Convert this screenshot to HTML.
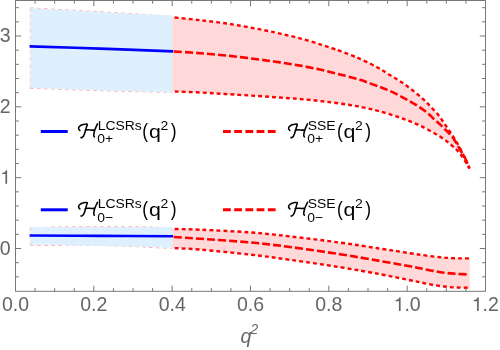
<!DOCTYPE html>
<html><head><meta charset="utf-8"><title>plot</title>
<style>
html,body{margin:0;padding:0;background:#fff;}
body{width:500px;height:350px;overflow:hidden;position:relative;font-family:"Liberation Sans",sans-serif;}
</style></head><body>
<svg width="500" height="350" viewBox="0 0 500 350" style="position:absolute;left:0;top:0">
<path d="M30.30,88.60 C30.30,75.15 30.30,21.35 30.30,7.90" fill="none" stroke="#ff5050" stroke-width="0.5" stroke-dasharray="3.5 3.5"/>
<path d="M30.30,7.90 C41.92,8.53 80.05,10.53 100.00,11.70 C119.95,12.87 138.00,13.98 150.00,14.90 C162.00,15.82 168.33,16.82 172.00,17.20" fill="none" stroke="#ff5050" stroke-width="0.5" stroke-dasharray="3.5 3.5"/>
<path d="M30.30,88.30 C41.92,88.70 76.38,90.00 100.00,90.70 C123.62,91.40 160.00,92.20 172.00,92.50" fill="none" stroke="#ff5050" stroke-width="0.5" stroke-dasharray="3.5 3.5"/>
<path d="M30.30,245.20 C30.30,242.17 30.30,230.03 30.30,227.00" fill="none" stroke="#ff5050" stroke-width="0.5" stroke-dasharray="3.5 3.5"/>
<path d="M30.30,227.90 C32.75,227.82 40.72,227.57 45.00,227.40 C49.28,227.23 46.83,227.01 56.00,226.90 C65.17,226.79 84.33,226.74 100.00,226.75 C115.67,226.76 138.00,226.61 150.00,226.95 C162.00,227.29 168.33,228.49 172.00,228.80" fill="none" stroke="#ff5050" stroke-width="0.5" stroke-dasharray="3.5 3.5"/>
<path d="M30.30,245.20 C34.42,245.26 48.38,245.57 55.00,245.55 C61.62,245.53 62.50,245.11 70.00,245.10 C77.50,245.09 89.17,245.25 100.00,245.50 C110.83,245.75 126.67,246.27 135.00,246.60 C143.33,246.93 143.83,247.22 150.00,247.50 C156.17,247.78 168.33,248.17 172.00,248.30" fill="none" stroke="#ff5050" stroke-width="0.5" stroke-dasharray="3.5 3.5"/>
<path d="M30.40,8.10 C42.00,8.73 76.37,10.70 100.00,11.90 C123.63,13.10 160.17,14.73 172.20,15.30 L172.20,92.40 C160.17,92.07 123.63,91.13 100.00,90.40 C76.37,89.67 42.00,88.40 30.40,88.00 Z" fill="#deeffe"/>
<path d="M172.20,17.20 C176.83,17.70 190.37,19.07 200.00,20.20 C209.63,21.33 220.00,22.47 230.00,24.00 C240.00,25.53 251.67,27.80 260.00,29.40 C268.33,31.00 273.33,32.12 280.00,33.60 C286.67,35.08 293.33,36.52 300.00,38.30 C306.67,40.08 314.50,42.60 320.00,44.30 C325.50,46.00 329.67,47.40 333.00,48.50 C336.33,49.60 336.67,49.67 340.00,50.90 C343.33,52.13 349.67,54.58 353.00,55.90 C356.33,57.22 357.17,57.53 360.00,58.80 C362.83,60.07 367.00,62.00 370.00,63.50 C373.00,65.00 375.67,66.50 378.00,67.80 C380.33,69.10 382.00,70.08 384.00,71.30 C386.00,72.52 388.00,73.87 390.00,75.10 C392.00,76.33 394.00,77.47 396.00,78.70 C398.00,79.93 400.17,81.28 402.00,82.50 C403.83,83.72 405.25,84.72 407.00,86.00 C408.75,87.28 410.67,88.77 412.50,90.20 C414.33,91.63 416.17,93.07 418.00,94.60 C419.83,96.13 421.83,97.85 423.50,99.40 C425.17,100.95 426.42,102.27 428.00,103.90 C429.58,105.53 431.33,107.42 433.00,109.20 C434.67,110.98 436.50,112.80 438.00,114.60 C439.50,116.40 440.67,118.10 442.00,120.00 C443.33,121.90 444.67,124.03 446.00,126.00 C447.33,127.97 448.67,129.83 450.00,131.80 C451.33,133.77 452.67,135.68 454.00,137.80 C455.33,139.92 456.67,142.13 458.00,144.50 C459.33,146.87 460.67,149.33 462.00,152.00 C463.33,154.67 464.93,158.20 466.00,160.50 C467.07,162.80 467.83,164.47 468.40,165.80 C468.97,167.13 469.23,168.05 469.40,168.50 L469.40,168.50 C469.00,167.72 468.57,166.28 467.00,163.80 C465.43,161.32 462.50,156.63 460.00,153.60 C457.50,150.57 455.33,148.43 452.00,145.60 C448.67,142.77 445.33,139.93 440.00,136.60 C434.67,133.27 426.67,128.77 420.00,125.60 C413.33,122.43 406.67,119.97 400.00,117.60 C393.33,115.23 385.83,113.03 380.00,111.40 C374.17,109.77 370.00,108.87 365.00,107.80 C360.00,106.73 356.67,106.03 350.00,105.00 C343.33,103.97 333.33,102.60 325.00,101.60 C316.67,100.60 308.33,99.73 300.00,99.00 C291.67,98.27 283.33,97.78 275.00,97.20 C266.67,96.62 258.33,96.03 250.00,95.50 C241.67,94.97 233.33,94.50 225.00,94.00 C216.67,93.50 208.80,92.93 200.00,92.50 C191.20,92.07 176.83,91.58 172.20,91.40 Z" fill="#ffd9d9"/>
<path d="M30.40,227.10 C42.00,227.08 76.37,227.02 100.00,227.00 C123.63,226.98 160.17,227.00 172.20,227.00 L172.20,247.80 C164.33,247.58 140.37,246.87 125.00,246.50 C109.63,246.13 95.77,245.88 80.00,245.60 C64.23,245.32 38.67,244.93 30.40,244.80 Z" fill="#deeffe"/>
<path d="M172.20,228.90 C176.83,229.03 187.03,229.12 200.00,229.70 C212.97,230.28 235.00,231.28 250.00,232.40 C265.00,233.52 275.00,234.70 290.00,236.40 C305.00,238.10 325.00,240.57 340.00,242.60 C355.00,244.63 368.33,246.83 380.00,248.60 C391.67,250.37 402.50,252.07 410.00,253.20 C417.50,254.33 420.00,254.73 425.00,255.40 C430.00,256.07 435.83,256.77 440.00,257.20 C444.17,257.63 446.67,257.80 450.00,258.00 C453.33,258.20 456.72,258.34 460.00,258.40 C463.28,258.46 468.08,258.36 469.70,258.35 L469.70,287.80 C467.42,287.75 460.28,287.72 456.00,287.50 C451.72,287.28 448.00,286.97 444.00,286.50 C440.00,286.03 436.00,285.40 432.00,284.70 C428.00,284.00 423.67,283.05 420.00,282.30 C416.33,281.55 416.67,281.55 410.00,280.20 C403.33,278.85 391.67,276.37 380.00,274.20 C368.33,272.03 355.00,269.60 340.00,267.20 C325.00,264.80 305.00,261.90 290.00,259.80 C275.00,257.70 265.00,256.30 250.00,254.60 C235.00,252.90 212.97,250.70 200.00,249.60 C187.03,248.50 176.83,248.27 172.20,248.00 Z" fill="#ffd9d9"/>
<path d="M172.20,17.20 C176.83,17.70 190.37,19.07 200.00,20.20 C209.63,21.33 220.00,22.47 230.00,24.00 C240.00,25.53 251.67,27.80 260.00,29.40 C268.33,31.00 273.33,32.12 280.00,33.60 C286.67,35.08 293.33,36.52 300.00,38.30 C306.67,40.08 314.50,42.60 320.00,44.30 C325.50,46.00 329.67,47.40 333.00,48.50 C336.33,49.60 336.67,49.67 340.00,50.90 C343.33,52.13 349.67,54.58 353.00,55.90 C356.33,57.22 357.17,57.53 360.00,58.80 C362.83,60.07 367.00,62.00 370.00,63.50 C373.00,65.00 375.67,66.50 378.00,67.80 C380.33,69.10 382.00,70.08 384.00,71.30 C386.00,72.52 388.00,73.87 390.00,75.10 C392.00,76.33 394.00,77.47 396.00,78.70 C398.00,79.93 400.17,81.28 402.00,82.50 C403.83,83.72 405.25,84.72 407.00,86.00 C408.75,87.28 410.67,88.77 412.50,90.20 C414.33,91.63 416.17,93.07 418.00,94.60 C419.83,96.13 421.83,97.85 423.50,99.40 C425.17,100.95 426.42,102.27 428.00,103.90 C429.58,105.53 431.33,107.42 433.00,109.20 C434.67,110.98 436.50,112.80 438.00,114.60 C439.50,116.40 440.67,118.10 442.00,120.00 C443.33,121.90 444.67,124.03 446.00,126.00 C447.33,127.97 448.67,129.83 450.00,131.80 C451.33,133.77 452.67,135.68 454.00,137.80 C455.33,139.92 456.67,142.13 458.00,144.50 C459.33,146.87 460.67,149.33 462.00,152.00 C463.33,154.67 464.93,158.20 466.00,160.50 C467.07,162.80 467.83,164.47 468.40,165.80 C468.97,167.13 469.23,168.05 469.40,168.50" fill="none" stroke="#ff0000" stroke-width="2.4" stroke-dasharray="3.85 3.1" stroke-dashoffset="-2.7"/>
<path d="M172.20,91.40 C176.83,91.58 191.20,92.07 200.00,92.50 C208.80,92.93 216.67,93.50 225.00,94.00 C233.33,94.50 241.67,94.97 250.00,95.50 C258.33,96.03 266.67,96.62 275.00,97.20 C283.33,97.78 291.67,98.27 300.00,99.00 C308.33,99.73 316.67,100.60 325.00,101.60 C333.33,102.60 343.33,103.97 350.00,105.00 C356.67,106.03 360.00,106.73 365.00,107.80 C370.00,108.87 374.17,109.77 380.00,111.40 C385.83,113.03 393.33,115.23 400.00,117.60 C406.67,119.97 413.33,122.43 420.00,125.60 C426.67,128.77 434.67,133.27 440.00,136.60 C445.33,139.93 448.67,142.77 452.00,145.60 C455.33,148.43 457.50,150.57 460.00,153.60 C462.50,156.63 465.43,161.32 467.00,163.80 C468.57,166.28 469.00,167.72 469.40,168.50" fill="none" stroke="#ff0000" stroke-width="2.4" stroke-dasharray="3.85 3.1" stroke-dashoffset="-2.7"/>
<path d="M172.20,228.90 C176.83,229.03 187.03,229.12 200.00,229.70 C212.97,230.28 235.00,231.28 250.00,232.40 C265.00,233.52 275.00,234.70 290.00,236.40 C305.00,238.10 325.00,240.57 340.00,242.60 C355.00,244.63 368.33,246.83 380.00,248.60 C391.67,250.37 402.50,252.07 410.00,253.20 C417.50,254.33 420.00,254.73 425.00,255.40 C430.00,256.07 435.83,256.77 440.00,257.20 C444.17,257.63 446.67,257.80 450.00,258.00 C453.33,258.20 456.72,258.34 460.00,258.40 C463.28,258.46 468.08,258.36 469.70,258.35" fill="none" stroke="#ff0000" stroke-width="2.4" stroke-dasharray="3.85 3.1" stroke-dashoffset="-2.7"/>
<path d="M172.20,248.00 C176.83,248.27 187.03,248.50 200.00,249.60 C212.97,250.70 235.00,252.90 250.00,254.60 C265.00,256.30 275.00,257.70 290.00,259.80 C305.00,261.90 325.00,264.80 340.00,267.20 C355.00,269.60 368.33,272.03 380.00,274.20 C391.67,276.37 403.33,278.85 410.00,280.20 C416.67,281.55 416.33,281.55 420.00,282.30 C423.67,283.05 428.00,284.00 432.00,284.70 C436.00,285.40 440.00,286.03 444.00,286.50 C448.00,286.97 451.72,287.28 456.00,287.50 C460.28,287.72 467.42,287.75 469.70,287.80" fill="none" stroke="#ff0000" stroke-width="2.4" stroke-dasharray="3.85 3.1" stroke-dashoffset="-2.7"/>
<path d="M173.20,51.40 C177.67,51.70 190.53,52.45 200.00,53.20 C209.47,53.95 220.00,54.83 230.00,55.90 C240.00,56.97 251.67,58.52 260.00,59.60 C268.33,60.68 273.33,61.40 280.00,62.40 C286.67,63.40 293.33,64.40 300.00,65.60 C306.67,66.80 313.33,68.13 320.00,69.60 C326.67,71.07 333.33,72.70 340.00,74.40 C346.67,76.10 355.00,78.30 360.00,79.80 C365.00,81.30 366.67,82.20 370.00,83.40 C373.33,84.60 376.83,85.82 380.00,87.00 C383.17,88.18 385.83,89.10 389.00,90.50 C392.17,91.90 395.75,93.73 399.00,95.40 C402.25,97.07 405.33,98.70 408.50,100.50 C411.67,102.30 414.92,104.18 418.00,106.20 C421.08,108.22 424.17,110.30 427.00,112.60 C429.83,114.90 432.83,118.03 435.00,120.00 C437.17,121.97 438.33,122.85 440.00,124.40 C441.67,125.95 443.33,127.65 445.00,129.30 C446.67,130.95 448.42,132.52 450.00,134.30 C451.58,136.08 452.78,137.38 454.50,140.00 C456.22,142.62 458.55,147.00 460.30,150.00 C462.05,153.00 463.72,155.58 465.00,158.00 C466.28,160.42 467.27,162.75 468.00,164.50 C468.73,166.25 469.17,167.83 469.40,168.50" fill="none" stroke="#ff0000" stroke-width="2.6" stroke-dasharray="8 3.05" stroke-dashoffset="-0.8"/>
<path d="M173.20,236.90 C177.67,237.22 187.20,237.88 200.00,238.80 C212.80,239.72 235.00,241.03 250.00,242.40 C265.00,243.77 275.00,245.03 290.00,247.00 C305.00,248.97 325.00,251.87 340.00,254.20 C355.00,256.53 368.33,258.98 380.00,261.00 C391.67,263.02 403.33,265.08 410.00,266.30 C416.67,267.52 416.33,267.57 420.00,268.30 C423.67,269.03 428.00,269.97 432.00,270.70 C436.00,271.43 440.00,272.18 444.00,272.70 C448.00,273.22 451.72,273.50 456.00,273.80 C460.28,274.10 467.42,274.38 469.70,274.50" fill="none" stroke="#ff0000" stroke-width="2.6" stroke-dasharray="8 3.05" stroke-dashoffset="-0.8"/>
<path d="M29.60,46.40 C41.33,46.77 76.07,47.77 100.00,48.60 C123.93,49.43 161.00,50.93 173.20,51.40" fill="none" stroke="#0000ff" stroke-width="2.6"/>
<path d="M29.60,235.50 C41.33,235.57 76.07,235.77 100.00,235.90 C123.93,236.03 161.00,236.23 173.20,236.30" fill="none" stroke="#0000ff" stroke-width="2.6"/>
<path d="M15.5,0.5 H485.5 V291.3 H15.5 Z M15.50,291.3 v-5.7 M15.50,0.5 v5.7 M35.08,291.3 v-3.2 M35.08,0.5 v3.2 M54.67,291.3 v-3.2 M54.67,0.5 v3.2 M74.25,291.3 v-3.2 M74.25,0.5 v3.2 M93.83,291.3 v-5.7 M93.83,0.5 v5.7 M113.42,291.3 v-3.2 M113.42,0.5 v3.2 M133.00,291.3 v-3.2 M133.00,0.5 v3.2 M152.58,291.3 v-3.2 M152.58,0.5 v3.2 M172.17,291.3 v-5.7 M172.17,0.5 v5.7 M191.75,291.3 v-3.2 M191.75,0.5 v3.2 M211.34,291.3 v-3.2 M211.34,0.5 v3.2 M230.92,291.3 v-3.2 M230.92,0.5 v3.2 M250.50,291.3 v-5.7 M250.50,0.5 v5.7 M270.09,291.3 v-3.2 M270.09,0.5 v3.2 M289.67,291.3 v-3.2 M289.67,0.5 v3.2 M309.25,291.3 v-3.2 M309.25,0.5 v3.2 M328.84,291.3 v-5.7 M328.84,0.5 v5.7 M348.42,291.3 v-3.2 M348.42,0.5 v3.2 M368.00,291.3 v-3.2 M368.00,0.5 v3.2 M387.59,291.3 v-3.2 M387.59,0.5 v3.2 M407.17,291.3 v-5.7 M407.17,0.5 v5.7 M426.75,291.3 v-3.2 M426.75,0.5 v3.2 M446.34,291.3 v-3.2 M446.34,0.5 v3.2 M465.92,291.3 v-3.2 M465.92,0.5 v3.2 M485.50,291.3 v-5.7 M485.50,0.5 v5.7 M15.5,276.83 h3.4 M485.5,276.83 h-3.4 M15.5,262.67 h3.4 M485.5,262.67 h-3.4 M15.5,248.50 h5.7 M485.5,248.50 h-5.7 M15.5,234.33 h3.4 M485.5,234.33 h-3.4 M15.5,220.17 h3.4 M485.5,220.17 h-3.4 M15.5,206.00 h3.4 M485.5,206.00 h-3.4 M15.5,191.84 h3.4 M485.5,191.84 h-3.4 M15.5,177.67 h5.7 M485.5,177.67 h-5.7 M15.5,163.50 h3.4 M485.5,163.50 h-3.4 M15.5,149.34 h3.4 M485.5,149.34 h-3.4 M15.5,135.17 h3.4 M485.5,135.17 h-3.4 M15.5,121.01 h3.4 M485.5,121.01 h-3.4 M15.5,106.84 h5.7 M485.5,106.84 h-5.7 M15.5,92.67 h3.4 M485.5,92.67 h-3.4 M15.5,78.51 h3.4 M485.5,78.51 h-3.4 M15.5,64.34 h3.4 M485.5,64.34 h-3.4 M15.5,50.18 h3.4 M485.5,50.18 h-3.4 M15.5,36.01 h5.7 M485.5,36.01 h-5.7 M15.5,21.84 h3.4 M485.5,21.84 h-3.4 M15.5,7.68 h3.4 M485.5,7.68 h-3.4" fill="none" stroke="#787878" stroke-width="1"/>
<path d="M40.8,131.5 H67.7" fill="none" stroke="#0000ff" stroke-width="3"/>
<path d="M223,131.5 H275.6" fill="none" stroke="#ff0000" stroke-width="3" stroke-dasharray="7.8 3.4"/>
<path d="M40.8,209.8 H67.7" fill="none" stroke="#0000ff" stroke-width="3"/>
<path d="M223,209.8 H275.6" fill="none" stroke="#ff0000" stroke-width="3" stroke-dasharray="7.8 3.4"/>
<g font-family="Liberation Sans, sans-serif" fill="#000" opacity="0.999">
<path transform="translate(77.8,121.8)" d="M2.10,8.70 C1.91,8.48 1.14,7.88 0.95,7.40 C0.76,6.92 0.76,6.32 0.95,5.80 C1.14,5.28 1.52,4.77 2.10,4.30 C2.68,3.83 3.52,3.33 4.40,3.00 C5.28,2.67 6.55,2.44 7.40,2.35 C8.25,2.26 9.28,1.98 9.50,2.45 C9.72,2.93 9.00,4.18 8.70,5.20 C8.40,6.22 8.03,7.47 7.70,8.60 C7.37,9.73 7.05,11.03 6.70,12.00 C6.35,12.97 6.02,13.78 5.60,14.40 C5.18,15.02 4.60,15.47 4.20,15.70 C3.80,15.93 3.37,15.78 3.20,15.80 M7.40,8.40 C7.92,8.33 9.48,8.02 10.50,8.00 C11.52,7.98 12.45,8.28 13.50,8.30 C14.55,8.32 16.25,8.13 16.80,8.10 M19.70,2.10 C19.50,2.52 18.93,3.63 18.50,4.60 C18.07,5.57 17.48,6.78 17.10,7.90 C16.72,9.02 16.38,10.32 16.20,11.30 C16.02,12.28 15.93,13.17 16.00,13.80 C16.07,14.43 16.50,14.88 16.60,15.10" fill="none" stroke="#000" stroke-width="1.55" stroke-linecap="round" stroke-linejoin="round"/>
<text transform="translate(97.70,129.70) scale(1.065,1)" font-size="13.10" >LCSRs</text>
<text transform="translate(97.30,143.10) scale(1.065,1)" font-size="13.10" >0+</text>
<text transform="translate(142.30,137.50) scale(0.900,1)" font-size="19.40" >(</text>
<text transform="translate(148.95,137.60) scale(1.135,1)" font-size="18.80" >q</text>
<text transform="translate(160.50,130.00) scale(1.065,1)" font-size="13.10" >2</text>
<text transform="translate(170.75,137.50) scale(0.900,1)" font-size="19.40" >)</text>
<path transform="translate(287.8,121.8)" d="M2.10,8.70 C1.91,8.48 1.14,7.88 0.95,7.40 C0.76,6.92 0.76,6.32 0.95,5.80 C1.14,5.28 1.52,4.77 2.10,4.30 C2.68,3.83 3.52,3.33 4.40,3.00 C5.28,2.67 6.55,2.44 7.40,2.35 C8.25,2.26 9.28,1.98 9.50,2.45 C9.72,2.93 9.00,4.18 8.70,5.20 C8.40,6.22 8.03,7.47 7.70,8.60 C7.37,9.73 7.05,11.03 6.70,12.00 C6.35,12.97 6.02,13.78 5.60,14.40 C5.18,15.02 4.60,15.47 4.20,15.70 C3.80,15.93 3.37,15.78 3.20,15.80 M7.40,8.40 C7.92,8.33 9.48,8.02 10.50,8.00 C11.52,7.98 12.45,8.28 13.50,8.30 C14.55,8.32 16.25,8.13 16.80,8.10 M19.70,2.10 C19.50,2.52 18.93,3.63 18.50,4.60 C18.07,5.57 17.48,6.78 17.10,7.90 C16.72,9.02 16.38,10.32 16.20,11.30 C16.02,12.28 15.93,13.17 16.00,13.80 C16.07,14.43 16.50,14.88 16.60,15.10" fill="none" stroke="#000" stroke-width="1.55" stroke-linecap="round" stroke-linejoin="round"/>
<text transform="translate(307.70,129.70) scale(1.065,1)" font-size="13.10" >SSE</text>
<text transform="translate(307.30,143.10) scale(1.065,1)" font-size="13.10" >0+</text>
<text transform="translate(336.90,137.50) scale(0.900,1)" font-size="19.40" >(</text>
<text transform="translate(343.55,137.60) scale(1.135,1)" font-size="18.80" >q</text>
<text transform="translate(355.10,130.00) scale(1.065,1)" font-size="13.10" >2</text>
<text transform="translate(365.35,137.50) scale(0.900,1)" font-size="19.40" >)</text>
<path transform="translate(77.8,200.2)" d="M2.10,8.70 C1.91,8.48 1.14,7.88 0.95,7.40 C0.76,6.92 0.76,6.32 0.95,5.80 C1.14,5.28 1.52,4.77 2.10,4.30 C2.68,3.83 3.52,3.33 4.40,3.00 C5.28,2.67 6.55,2.44 7.40,2.35 C8.25,2.26 9.28,1.98 9.50,2.45 C9.72,2.93 9.00,4.18 8.70,5.20 C8.40,6.22 8.03,7.47 7.70,8.60 C7.37,9.73 7.05,11.03 6.70,12.00 C6.35,12.97 6.02,13.78 5.60,14.40 C5.18,15.02 4.60,15.47 4.20,15.70 C3.80,15.93 3.37,15.78 3.20,15.80 M7.40,8.40 C7.92,8.33 9.48,8.02 10.50,8.00 C11.52,7.98 12.45,8.28 13.50,8.30 C14.55,8.32 16.25,8.13 16.80,8.10 M19.70,2.10 C19.50,2.52 18.93,3.63 18.50,4.60 C18.07,5.57 17.48,6.78 17.10,7.90 C16.72,9.02 16.38,10.32 16.20,11.30 C16.02,12.28 15.93,13.17 16.00,13.80 C16.07,14.43 16.50,14.88 16.60,15.10" fill="none" stroke="#000" stroke-width="1.55" stroke-linecap="round" stroke-linejoin="round"/>
<text transform="translate(97.70,208.10) scale(1.065,1)" font-size="13.10" >LCSRs</text>
<text transform="translate(97.30,221.50) scale(1.065,1)" font-size="13.10" >0−</text>
<text transform="translate(142.30,215.90) scale(0.900,1)" font-size="19.40" >(</text>
<text transform="translate(148.95,216.00) scale(1.135,1)" font-size="18.80" >q</text>
<text transform="translate(160.50,208.40) scale(1.065,1)" font-size="13.10" >2</text>
<text transform="translate(170.75,215.90) scale(0.900,1)" font-size="19.40" >)</text>
<path transform="translate(287.8,200.2)" d="M2.10,8.70 C1.91,8.48 1.14,7.88 0.95,7.40 C0.76,6.92 0.76,6.32 0.95,5.80 C1.14,5.28 1.52,4.77 2.10,4.30 C2.68,3.83 3.52,3.33 4.40,3.00 C5.28,2.67 6.55,2.44 7.40,2.35 C8.25,2.26 9.28,1.98 9.50,2.45 C9.72,2.93 9.00,4.18 8.70,5.20 C8.40,6.22 8.03,7.47 7.70,8.60 C7.37,9.73 7.05,11.03 6.70,12.00 C6.35,12.97 6.02,13.78 5.60,14.40 C5.18,15.02 4.60,15.47 4.20,15.70 C3.80,15.93 3.37,15.78 3.20,15.80 M7.40,8.40 C7.92,8.33 9.48,8.02 10.50,8.00 C11.52,7.98 12.45,8.28 13.50,8.30 C14.55,8.32 16.25,8.13 16.80,8.10 M19.70,2.10 C19.50,2.52 18.93,3.63 18.50,4.60 C18.07,5.57 17.48,6.78 17.10,7.90 C16.72,9.02 16.38,10.32 16.20,11.30 C16.02,12.28 15.93,13.17 16.00,13.80 C16.07,14.43 16.50,14.88 16.60,15.10" fill="none" stroke="#000" stroke-width="1.55" stroke-linecap="round" stroke-linejoin="round"/>
<text transform="translate(307.70,208.10) scale(1.065,1)" font-size="13.10" >SSE</text>
<text transform="translate(307.30,221.50) scale(1.065,1)" font-size="13.10" >0−</text>
<text transform="translate(336.90,215.90) scale(0.900,1)" font-size="19.40" >(</text>
<text transform="translate(343.55,216.00) scale(1.135,1)" font-size="18.80" >q</text>
<text transform="translate(355.10,208.40) scale(1.065,1)" font-size="13.10" >2</text>
<text transform="translate(365.35,215.90) scale(0.900,1)" font-size="19.40" >)</text>
<text x="15.5" y="311" font-size="19.5" fill="#666" text-anchor="middle">0.0</text>
<text x="93.8" y="311" font-size="19.5" fill="#666" text-anchor="middle">0.2</text>
<text x="172.2" y="311" font-size="19.5" fill="#666" text-anchor="middle">0.4</text>
<text x="250.5" y="311" font-size="19.5" fill="#666" text-anchor="middle">0.6</text>
<text x="328.8" y="311" font-size="19.5" fill="#666" text-anchor="middle">0.8</text>
<path transform="translate(393.62,311.00) scale(19.500)" d="M0.272,0 L0.272,-0.501 L0.101,-0.501 L0.101,-0.560 C0.205,-0.566 0.272,-0.602 0.297,-0.703 L0.359,-0.703 L0.359,0 Z" fill="#666"/>
<text x="404.46" y="311" font-size="19.5" fill="#666">.0</text>
<path transform="translate(471.75,311.00) scale(19.500)" d="M0.272,0 L0.272,-0.501 L0.101,-0.501 L0.101,-0.560 C0.205,-0.566 0.272,-0.602 0.297,-0.703 L0.359,-0.703 L0.359,0 Z" fill="#666"/>
<text x="482.59" y="311" font-size="19.5" fill="#666">.2</text>
<text x="10.6" y="254.7" font-size="19.5" fill="#666" text-anchor="end">0</text>
<path transform="translate(0.11,183.87) scale(19.500)" d="M0.272,0 L0.272,-0.501 L0.101,-0.501 L0.101,-0.560 C0.205,-0.566 0.272,-0.602 0.297,-0.703 L0.359,-0.703 L0.359,0 Z" fill="#666"/>
<text x="10.6" y="113.0" font-size="19.5" fill="#666" text-anchor="end">2</text>
<text x="10.6" y="42.2" font-size="19.5" fill="#666" text-anchor="end">3</text>
<text x="240.6" y="342.5" font-size="19.8" fill="#666" font-style="italic">q</text>
<text x="250.6" y="334.0" font-size="13.8" fill="#666" font-style="italic">2</text>
</g>
</svg>
</body></html>
